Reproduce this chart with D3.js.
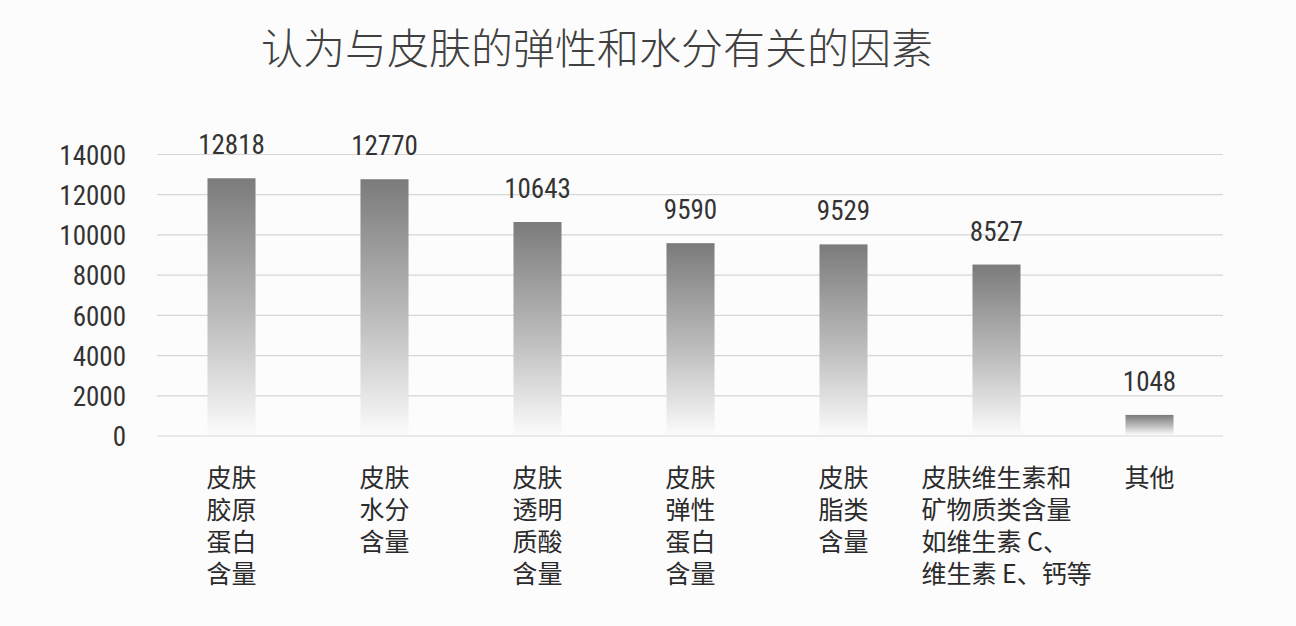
<!DOCTYPE html>
<html>
<head>
<meta charset="utf-8">
<script src="https://cdn.jsdelivr.net/npm/d3@7"></script>
<style>
    body { margin: 0; background: #fdfcfd; }
    svg { display: block; }
</style>
</head>
<body>
<div id="chart"></div>
<script>

// data
const categories = [
    ["皮肤", "胶原", "蛋白", "含量"],
    ["皮肤", "水分", "含量"],
    ["皮肤", "透明", "质酸", "含量"],
    ["皮肤", "弹性", "蛋白", "含量"],
    ["皮肤", "脂类", "含量"],
    ["皮肤维生素和", "矿物质类含量", "如维生素 C、", "维生素 E、钙等"],
    ["其他"]
];
const values = [12818, 12770, 10643, 9590, 9529, 8527, 1048];
const yTicks = [0, 2000, 4000, 6000, 8000, 10000, 12000, 14000];
const title = "认为与皮肤的弹性和水分有关的因素";

const W = 1296, H = 626;
const numFont = "'Liberation Sans Narrow', 'Roboto Condensed', 'Liberation Sans', Arial, sans-serif";
const cjkFont = "'Noto Sans CJK SC', 'Noto Sans', sans-serif";

let svg = d3.select("#chart").append("svg")
    .attr("width", W)
    .attr("height", H);

// gradient for the bars, dark at top fading out at bottom
let defs = svg.append("defs");
let grad = defs.append("linearGradient")
    .attr("id", "barGrad")
    .attr("x1", 0).attr("y1", 0)
    .attr("x2", 0).attr("y2", 1);
grad.append("stop").attr("offset", "0%").attr("stop-color", "#7b7b7b");
grad.append("stop").attr("offset", "55%").attr("stop-color", "#bdbdbd");
grad.append("stop").attr("offset", "100%").attr("stop-color", "#fbfbfb");

let y = d3.scaleLinear()
    .domain([0, 14000])
    .range([436, 154.5]);

let x = d3.scaleBand()
    .domain(d3.range(categories.length))
    .range([155, 1226])
    .paddingInner(0.686)
    .paddingOuter(0.343);

// title
svg.append("text")
    .attr("x", 597)
    .attr("y", 64)
    .attr("text-anchor", "middle")
    .style("font-family", cjkFont)
    .style("font-weight", 300)
    .style("font-size", "42px")
    .style("fill", "#404040")
    .text(title);

// grid lines
svg.append("g")
    .selectAll("line")
    .data(yTicks)
    .enter()
    .append("line")
    .attr("x1", 157)
    .attr("x2", 1223)
    .attr("y1", d => y(d))
    .attr("y2", d => y(d))
    .style("stroke", "#d6d6d6")
    .style("stroke-width", 1.2);

// y axis labels
let yAxis = svg.append("g")
    .attr("transform", "translate(130,0)")
    .call(d3.axisLeft(y).tickValues(yTicks).tickSize(0).tickPadding(4).tickFormat(d3.format("d")));
yAxis.select(".domain").remove();
yAxis.selectAll("text")
    .attr("dy", "0.36em")
    .style("font-family", numFont)
    .style("font-size", "27px")
    .style("fill", "#333");

// bars
svg.append("g")
    .selectAll("rect")
    .data(values)
    .enter()
    .append("rect")
    .attr("x", (d, i) => x(i))
    .attr("y", d => y(d))
    .attr("width", x.bandwidth())
    .attr("height", d => y(0) - y(d) - 1)
    .attr("fill", "url(#barGrad)");

// value labels
svg.append("g")
    .selectAll("text")
    .data(values)
    .enter()
    .append("text")
    .attr("x", (d, i) => x(i) + x.bandwidth() / 2)
    .attr("y", d => y(d) - 24)
    .attr("text-anchor", "middle")
    .style("font-family", numFont)
    .style("font-size", "27px")
    .style("fill", "#333")
    .text(d => d);

// category labels: one text per line, left aligned, block centred on first line
let catG = svg.append("g");
categories.forEach((lines, i) => {
    let cx = x(i) + x.bandwidth() / 2;
    let g = catG.append("g");
    let texts = lines.map((s, j) => g.append("text")
        .attr("y", 487 + j * 32)
        .style("font-family", cjkFont)
        .style("font-size", "25px")
        .style("fill", "#2b2b2b")
        .text(s));
    let w0 = texts[0].node().getComputedTextLength();
    texts.forEach(t => t.attr("x", cx - w0 / 2));
});

</script>
</body>
</html>
